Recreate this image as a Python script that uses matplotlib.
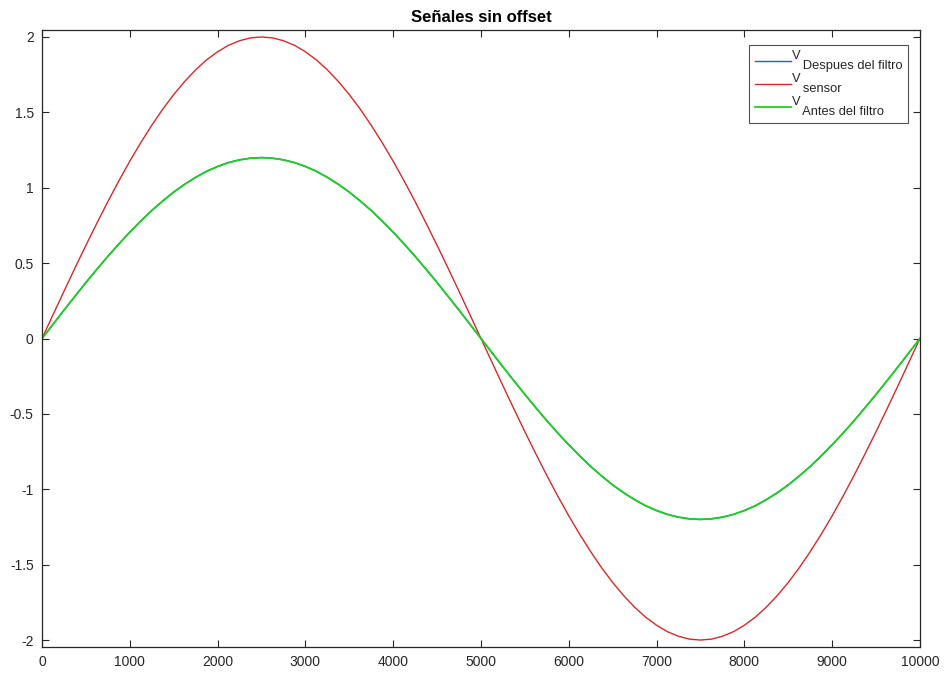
import matplotlib
matplotlib.use('Agg')
import matplotlib.pyplot as plt

# muestras, cada 125
t = [0, 125, 250, 375, 500, 625, 750, 875, 1000, 1125, 1250, 1375, 1500, 1625, 1750, 1875,
     2000, 2125, 2250, 2375, 2500, 2625, 2750, 2875, 3000, 3125, 3250, 3375, 3500, 3625,
     3750, 3875, 4000, 4125, 4250, 4375, 4500, 4625, 4750, 4875, 5000, 5125, 5250, 5375,
     5500, 5625, 5750, 5875, 6000, 6125, 6250, 6375, 6500, 6625, 6750, 6875, 7000, 7125,
     7250, 7375, 7500, 7625, 7750, 7875, 8000, 8125, 8250, 8375, 8500, 8625, 8750, 8875,
     9000, 9125, 9250, 9375, 9500, 9625, 9750, 9875, 10000]

v_sensor = [0, 0.157, 0.313, 0.467, 0.618, 0.765, 0.908, 1.045, 1.176, 1.299, 1.414,
            1.521, 1.618, 1.705, 1.782, 1.848, 1.902, 1.945, 1.975, 1.994, 2.0,
            1.994, 1.975, 1.945, 1.902, 1.848, 1.782, 1.705, 1.618, 1.521, 1.414,
            1.299, 1.176, 1.045, 0.908, 0.765, 0.618, 0.467, 0.313, 0.157, 0,
            -0.157, -0.313, -0.467, -0.618, -0.765, -0.908, -1.045, -1.176, -1.299, -1.414,
            -1.521, -1.618, -1.705, -1.782, -1.848, -1.902, -1.945, -1.975, -1.994, -2.0,
            -1.994, -1.975, -1.945, -1.902, -1.848, -1.782, -1.705, -1.618, -1.521, -1.414,
            -1.299, -1.176, -1.045, -0.908, -0.765, -0.618, -0.467, -0.313, -0.157, 0]

v_despues = [0, 0.094, 0.188, 0.280, 0.371, 0.459, 0.545, 0.627, 0.705, 0.779, 0.849,
             0.912, 0.971, 1.023, 1.069, 1.109, 1.141, 1.167, 1.185, 1.196, 1.2,
             1.196, 1.185, 1.167, 1.141, 1.109, 1.069, 1.023, 0.971, 0.912, 0.849,
             0.779, 0.705, 0.627, 0.545, 0.459, 0.371, 0.280, 0.188, 0.094, 0,
             -0.094, -0.188, -0.280, -0.371, -0.459, -0.545, -0.627, -0.705, -0.779, -0.849,
             -0.912, -0.971, -1.023, -1.069, -1.109, -1.141, -1.167, -1.185, -1.196, -1.2,
             -1.196, -1.185, -1.167, -1.141, -1.109, -1.069, -1.023, -0.971, -0.912, -0.849,
             -0.779, -0.705, -0.627, -0.545, -0.459, -0.371, -0.280, -0.188, -0.094, 0]

v_antes = list(v_despues)

xticks = [0, 1000, 2000, 3000, 4000, 5000, 6000, 7000, 8000, 9000, 10000]
yticks = [-2, -1.5, -1, -0.5, 0, 0.5, 1, 1.5, 2]
ytick_labels = ['-2', '-1.5', '-1', '-0.5', '0', '0.5', '1', '1.5', '2']

# V con subindice del mismo tamaño (como en Octave)
lbl_despues = 'V\n   Despues del filtro'
lbl_sensor = 'V\n   sensor'
lbl_antes = 'V\n   Antes del filtro'

plt.rcParams['font.family'] = ['Liberation Sans', 'DejaVu Sans']

fig = plt.figure(figsize=(9.44, 6.75), dpi=100)
ax = fig.add_axes([0.0445, 0.0415, 0.930, 0.914])

ax.plot(t, v_despues, color='#0072bd', lw=1.0, label=lbl_despues)
ax.plot(t, v_sensor, color='#d42a2a', lw=1.0, label=lbl_sensor)
ax.plot(t, v_antes, color='#22cc22', lw=1.3, label=lbl_antes)

ax.set_xlim(0, 10000)
ax.set_ylim(-2.046, 2.046)
ax.set_xticks(xticks)
ax.set_xticklabels([str(v) for v in xticks])
ax.set_yticks(yticks)
ax.set_yticklabels(ytick_labels)
ax.tick_params(direction='in', top=True, right=True, length=5, width=0.8,
               labelsize=10, colors='#262626', pad=6)
for s in ax.spines.values():
    s.set_color('#262626')
    s.set_linewidth(0.9)

ax.set_title('Señales sin offset', fontsize=12, fontweight='bold', pad=6)

leg = ax.legend(loc='upper right', bbox_to_anchor=(0.9863, 0.9762), fontsize=9.3,
                frameon=True, fancybox=False, handlelength=2.8, handletextpad=0.1,
                borderpad=0.4, labelspacing=0.12, borderaxespad=0)
leg.get_frame().set_edgecolor('#262626')
leg.get_frame().set_linewidth(0.8)
for txt in leg.get_texts():
    txt.set_linespacing(0.75)
    txt.set_color('#262626')

fig.savefig('out.png', dpi=100)
